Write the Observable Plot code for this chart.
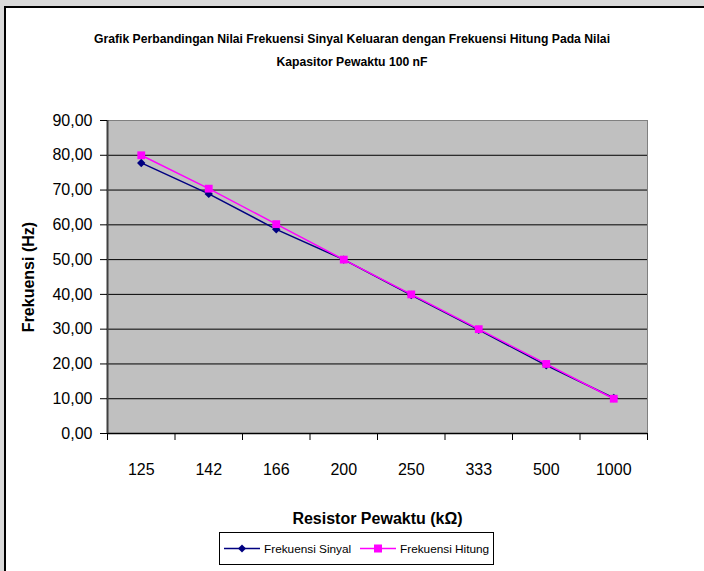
<!DOCTYPE html>
<html><head><meta charset="utf-8">
<script src="https://cdn.jsdelivr.net/npm/d3@7"></script>
<script src="https://cdn.jsdelivr.net/npm/@observablehq/plot@0.6"></script>
<style>
body{margin:0;width:704px;height:571px;background:#d9d9d9;position:relative;overflow:hidden;font-family:"Liberation Sans Narrow","Arial Narrow","Liberation Sans",Arial,sans-serif;}
#frame{position:absolute;left:4px;top:6px;width:720px;height:600px;background:#fff;border-left:2px solid #000;border-top:2px solid #000;}
#title{position:absolute;left:0;top:28px;width:704px;text-align:center;font-weight:bold;font-size:12.2px;line-height:23px;color:#000;}
#chart{position:absolute;left:0;top:100px;}
#legend{position:absolute;left:219px;top:532px;width:273px;height:31px;border:1px solid #000;background:#fff;font-size:11.8px;}
#legend .item{position:absolute;top:0;height:31px;display:flex;align-items:center;white-space:nowrap;}
</style></head>
<body>
<div id="frame"></div>
<div id="title">Grafik Perbandingan Nilai Frekuensi Sinyal Keluaran dengan Frekuensi Hitung Pada Nilai<br>Kapasitor Pewaktu 100 nF</div>
<div id="chart"></div>
<div id="legend"></div>
<script>
const categories = ["125","142","166","200","250","333","500","1000"];
const sinyal = [77.8, 68.9, 58.7, 50.0, 39.8, 29.8, 19.6, 10.2];
const hitung = [80.0, 70.4, 60.2, 50.0, 40.0, 30.0, 20.0, 10.0];
const yTicks = [0,10,20,30,40,50,60,70,80,90];
const seriesNames = ["Frekuensi Sinyal","Frekuensi Hitung"];
const colors = ["#000080","#ff00ff"];
const xTitle = "Resistor Pewaktu (kΩ)";
const yTitle = "Frekuensi (Hz)";

const idx = categories.map((_, i) => i);
const dSinyal = idx.map(i => ({i, v: sinyal[i]}));
const dHitung = idx.map(i => ({i, v: hitung[i]}));
const bounds = [...idx.map(i => i - 0.5), categories.length - 0.5];
const fontFam = '"Liberation Sans Narrow","Arial Narrow","Liberation Sans",Arial,sans-serif';

const chart = Plot.plot({
  width: 704, height: 430,
  marginLeft: 107, marginRight: 57, marginTop: 20, marginBottom: 97,
  style: {background: "transparent", fontFamily: fontFam, fontSize: "16px", color: "#000", overflow: "visible"},
  x: {type: "linear", domain: [-0.5, categories.length - 0.5]},
  y: {domain: [0, 90]},
  marks: [
    Plot.frame({fill: "#c0c0c0", stroke: "#808080"}),
    Plot.gridY(yTicks.filter(v => v > 0 && v < 90), {stroke: "#000", strokeOpacity: 1}),
    Plot.ruleY([0], {stroke: "#000", strokeWidth: 1.5}),
    Plot.ruleX([-0.5], {stroke: "#404040", strokeWidth: 2}),
    Plot.axisY(yTicks, {tickSize: 7, tickPadding: 8, tickFormat: d => d.toFixed(2).replace(".", ","), label: null, fontSize: 16}),
    Plot.axisX(idx, {tickSize: 0, tickPadding: 30, tickFormat: i => categories[i], label: null, fontSize: 16}),
    Plot.axisX(bounds, {tickSize: 7, tickFormat: () => "", label: null, stroke: "#000"}),
    Plot.line(dSinyal, {x: "i", y: "v", stroke: colors[0], strokeWidth: 1.5}),
    Plot.dot(dSinyal, {x: "i", y: "v", symbol: "diamond2", r: 3.8, fill: colors[0], stroke: null}),
    Plot.line(dHitung, {x: "i", y: "v", stroke: colors[1], strokeWidth: 1.5}),
    Plot.dot(dHitung, {x: "i", y: "v", symbol: "square", r: 4.4, fill: colors[1], stroke: null}),
    Plot.text([xTitle], {frameAnchor: "bottom", dy: 85, text: d => d, fontWeight: "bold", fontSize: 16, lineAnchor: "middle", textAnchor: "middle"}),
    Plot.text([yTitle], {frameAnchor: "left", dx: -79, text: d => d, fontWeight: "bold", fontSize: 16, rotate: -90, lineAnchor: "middle", textAnchor: "middle"})
  ]
});
document.getElementById("chart").appendChild(chart);

// legend
const legend = document.getElementById("legend");
const itemLeft = [4, 140];
const markers = ["diamond", "square"];
seriesNames.forEach((name, k) => {
  const item = document.createElement("div");
  item.className = "item";
  item.style.left = itemLeft[k] + "px";
  const marker = markers[k] === "diamond"
    ? `<path d="M18,11.5 L22,15.5 L18,19.5 L14,15.5 Z" fill="${colors[k]}"/>`
    : `<rect x="14" y="11.5" width="8" height="8" fill="${colors[k]}"/>`;
  item.innerHTML = `<svg width="36" height="31" style="display:block"><line x1="0" x2="36" y1="15.5" y2="15.5" stroke="${colors[k]}" stroke-width="1.5"/>${marker}</svg><span style="margin-left:4px">${name}</span>`;
  legend.appendChild(item);
});
</script>
</body></html>
